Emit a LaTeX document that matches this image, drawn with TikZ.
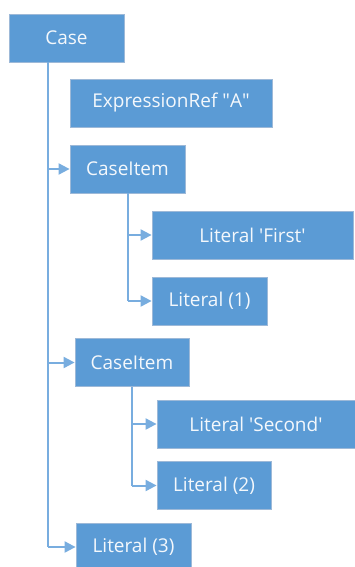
\documentclass[tikz,border=0pt]{standalone}
\usepackage{fontspec}
\setmainfont{Open Sans}
\usetikzlibrary{arrows.meta,calc}
\definecolor{boxblue}{HTML}{5B9BD5}
\definecolor{boxedge}{HTML}{9DB9D8}
\definecolor{linkblue}{HTML}{78ADDF}
\definecolor{labelwhite}{HTML}{F4F8FC}
\tikzset{
  treebox/.style={rectangle, fill=boxblue, draw=boxedge, line width=0.8pt,
    minimum height=48pt, inner sep=0pt, text=labelwhite,
    font=\fontsize{19}{21}\selectfont},
  link/.style={draw=linkblue, line width=2pt},
  arrowlink/.style={link, -{Triangle[length=11pt,width=11pt]}},
}
\newcommand{\sq}{\textquotesingle}
\newcommand{\dq}{\textquotedbl}
\begin{document}
\begin{tikzpicture}[x=1pt, y=-1pt]
  \useasboundingbox (0,0) rectangle (355,567);

  % nodes of the expression tree
  \node[treebox, minimum width=115pt] (case)   at (66.5,38)  {Case};
  \node[treebox, minimum width=202pt] (expr)   at (171,103)  {ExpressionRef \dq A\dq};
  \node[treebox, minimum width=115pt] (item1)  at (127.5,169) {CaseItem};
  \node[treebox, minimum width=201pt] (first)  at (252.5,235) {Literal \sq First\sq};
  \node[treebox, minimum width=115pt] (lit1)   at (209.5,301) {Literal (1)};
  \node[treebox, minimum width=114pt] (item2)  at (132,362.5) {CaseItem};
  \node[treebox, minimum width=198pt] (second) at (256,424)   {Literal \sq Second\sq};
  \node[treebox, minimum width=114pt] (lit2)   at (214,485.5) {Literal (2)};
  \node[treebox, minimum width=115pt] (lit3)   at (133.5,547) {Literal (3)};

  % trunk lines
  \coordinate (trunk) at ($(case.south west)+(39,0)$);
  \coordinate (trunkend) at (trunk |- lit3.west);
  \draw[link] (trunk) -- (trunkend);
  \draw[link] (item1.south) -- (item1.south |- lit1.west);
  \draw[link] (item2.south) -- (item2.south |- lit2.west);

  % branches
  \draw[arrowlink] (trunk |- item1.west) -- (item1.west);
  \draw[arrowlink] (trunk |- item2.west) -- (item2.west);
  \draw[arrowlink] (trunkend) -- (lit3.west);
  \draw[arrowlink] (item1.south |- first.west) -- (first.west);
  \draw[arrowlink] (item1.south |- lit1.west) -- (lit1.west);
  \draw[arrowlink] (item2.south |- second.west) -- (second.west);
  \draw[arrowlink] (item2.south |- lit2.west) -- (lit2.west);
\end{tikzpicture}
\end{document}
